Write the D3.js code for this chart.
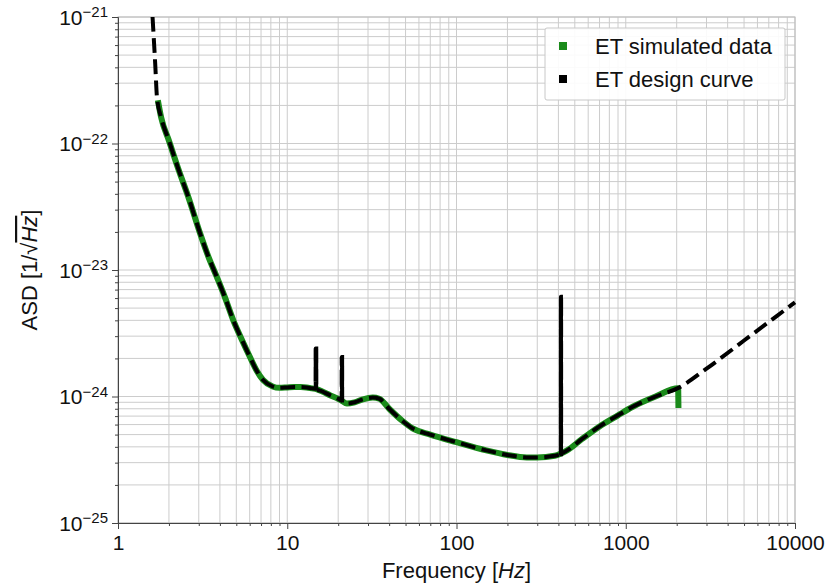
<!DOCTYPE html>
<html>
<head>
<meta charset="utf-8">
<script src="https://cdn.jsdelivr.net/npm/d3@7"></script>
<style>
  body { margin: 0; background: #fff; }
  text { font-family: "Liberation Sans", Arial, sans-serif; fill: #111; }
</style>
</head>
<body>
<div id="chart"></div>
<script>
// ET design curve (frequency Hz, ASD); the narrow lines are sampled densely, several samples per peak
var designFreq = [1.6, 1.63, 1.66, 1.70, 1.8, 2.0, 2.3, 2.6, 3.05, 3.4, 3.83, 4.3, 4.8, 5.4, 6.0, 6.6, 7.2, 8.2, 9.0,
                  10, 11, 12, 13, 14, 14.70, 14.72, 14.74, 14.76, 14.78, 14.80, 14.82, 14.84, 14.86, 16, 18, 20,
                  20.96, 20.98, 21.00, 21.02, 21.04, 21.06, 21.08, 21.10, 21.12, 22.5, 25, 28, 32, 35, 40, 48, 55,
                  70, 100, 150, 200, 260, 300, 380, 413.6, 413.8, 414.0, 414.2, 414.4, 414.6, 414.8, 415.0, 415.2,
                  450, 550, 700, 900, 1100, 1500, 2048, 3000, 5000, 10000];
var designAsd = [1.0e-21, 6.5e-22, 4.2e-22, 2.3e-22, 1.6e-22, 1.05e-22, 6.0e-23, 3.8e-23, 1.96e-23, 1.3e-23, 8.85e-24, 6.0e-24, 4.0e-24, 2.8e-24, 2.07e-24, 1.6e-24, 1.35e-24, 1.2e-24, 1.17e-24,
                 1.18e-24, 1.19e-24, 1.19e-24, 1.18e-24, 1.16e-24, 1.15e-24, 2.4e-24, 1.15e-24, 2.4e-24, 1.15e-24, 2.4e-24, 1.15e-24, 2.4e-24, 1.14e-24, 1.1e-24, 1.02e-24, 9.6e-25,
                 9.3e-25, 2.05e-24, 9.3e-25, 2.05e-24, 9.3e-25, 2.05e-24, 9.3e-25, 2.05e-24, 9.2e-25, 8.8e-25, 9.0e-25, 9.5e-25, 9.8e-25, 9.6e-25, 8.0e-25, 6.4e-25, 5.6e-25,
                 5.0e-25, 4.35e-25, 3.75e-25, 3.45e-25, 3.3e-25, 3.3e-25, 3.4e-25, 3.5e-25, 6.15e-24, 3.5e-25, 6.15e-24, 3.5e-25, 6.15e-24, 3.5e-25, 6.15e-24, 3.55e-25,
                 3.75e-25, 4.6e-25, 5.8e-25, 7.1e-25, 8.3e-25, 1.0e-24, 1.17e-24, 1.66e-24, 2.77e-24, 5.55e-24];

// ET simulated data
var simFreq = [1.72, 1.8, 2.0, 2.3, 2.6, 3.05, 3.4, 3.83, 4.3, 4.8, 5.4, 6.0, 6.6, 7.2, 8.2, 9.0,
               10, 11, 12, 13, 14, 15, 16, 18, 20, 21, 22.5, 25, 28, 32, 35, 40, 48, 55,
               70, 100, 150, 200, 260, 300, 380, 450, 550, 700, 900, 1100, 1500, 2040, 2048];
var simAsd = [2.2e-22, 1.6e-22, 1.05e-22, 6.0e-23, 3.8e-23, 1.96e-23, 1.3e-23, 8.85e-24, 6.0e-24, 4.0e-24, 2.8e-24, 2.07e-24, 1.6e-24, 1.35e-24, 1.2e-24, 1.17e-24,
              1.18e-24, 1.19e-24, 1.19e-24, 1.18e-24, 1.16e-24, 1.14e-24, 1.1e-24, 1.02e-24, 9.6e-25, 9.25e-25, 8.8e-25, 9.0e-25, 9.5e-25, 9.8e-25, 9.6e-25, 8.0e-25, 6.4e-25, 5.6e-25,
              5.0e-25, 4.35e-25, 3.75e-25, 3.45e-25, 3.3e-25, 3.3e-25, 3.4e-25, 3.75e-25, 4.6e-25, 5.8e-25, 7.1e-25, 8.3e-25, 1.0e-24, 1.16e-24, 8.1e-25];

var xTicks = [1, 10, 100, 1000, 10000];
var yExps = [-25, -24, -23, -22, -21];
var legendLabels = ["ET simulated data", "ET design curve"];

var W = 828, H = 585;
var margin = { top: 17, right: 33, bottom: 62, left: 118 };
var w = W - margin.left - margin.right;
var h = H - margin.top - margin.bottom;
var font = "Liberation Sans, Arial, sans-serif";

var svg = d3.select("#chart").append("svg")
            .attr("width", W)
            .attr("height", H);
var g = svg.append("g")
           .attr("transform", "translate(" + margin.left + "," + margin.top + ")");

var x = d3.scaleLog().domain([1, 10000]).range([0, w]);
var y = d3.scaleLog().domain([1e-25, 1e-21]).range([h, 0]);

// minor tick values
var xMinor = [], yMinor = [];
for (var d = 1; d < 10000; d *= 10) for (var k = 2; k <= 9; k++) xMinor.push(d * k);
for (var e = -25; e < -21; e++) for (var k = 2; k <= 9; k++) yMinor.push(k * Math.pow(10, e));
var yMajor = yExps.map(function(p) { return Math.pow(10, p); });

// grid
var grid = g.append("g").attr("stroke", "#cccccc").attr("stroke-width", 1);
xMinor.concat(xTicks).forEach(function(v) {
  grid.append("line").attr("x1", x(v)).attr("x2", x(v)).attr("y1", 0).attr("y2", h);
});
yMinor.concat(yMajor).forEach(function(v) {
  grid.append("line").attr("x1", 0).attr("x2", w).attr("y1", y(v)).attr("y2", y(v));
});
g.append("rect").attr("width", w).attr("height", h)
 .attr("fill", "none").attr("stroke", "#bbbbbb");

// axes
var xAxis = g.append("g").attr("transform", "translate(0," + h + ")")
  .call(d3.axisBottom(x).tickValues(xTicks).tickFormat(d3.format("d")).tickSize(6).tickPadding(6));
g.append("g").attr("transform", "translate(0," + h + ")")
  .call(d3.axisBottom(x).tickValues(xMinor).tickFormat("").tickSize(3))
  .select(".domain").remove();

var yAxis = g.append("g")
  .call(d3.axisLeft(y).tickValues(yMajor).tickFormat("").tickSize(6));
g.append("g")
  .call(d3.axisLeft(y).tickValues(yMinor).tickFormat("").tickSize(3))
  .select(".domain").remove();

g.selectAll(".domain").attr("stroke", "#444");
g.selectAll(".tick line").attr("stroke", "#444");
xAxis.selectAll("text").attr("font-size", 21).attr("fill", "#111")
     .style("font-family", font);

yAxis.selectAll(".tick").each(function(v) {
  var t = d3.select(this).append("text")
    .attr("x", -10).attr("dy", "0.35em")
    .attr("text-anchor", "end")
    .attr("font-size", 21)
    .attr("fill", "#111")
    .style("font-family", font);
  t.append("tspan").text("10");
  t.append("tspan").attr("dy", "-0.5em").attr("font-size", 15)
   .text("\u2212" + Math.round(-Math.log10(v)));
});

// curves
var line = d3.line()
  .x(function(d) { return x(d[0]); })
  .y(function(d) { return y(d[1]); })
  .curve(d3.curveMonotoneX);

var simData = d3.zip(simFreq, simAsd);
var designData = d3.zip(designFreq, designAsd);

var plot = g.append("g");
plot.append("path").datum(simData)
  .attr("d", line)
  .attr("fill", "none")
  .attr("stroke", "#1a8a1a")
  .attr("stroke-width", 6)
  .attr("stroke-linejoin", "round");
plot.append("path").datum(designData)
  .attr("d", line)
  .attr("fill", "none")
  .attr("stroke", "#000")
  .attr("stroke-width", 4)
  .attr("stroke-dasharray", "14.8,6.4");

// legend
var legend = g.append("g").attr("transform", "translate(" + (545 - margin.left) + "," + (28 - margin.top) + ")");
legend.append("rect").attr("width", 240).attr("height", 72).attr("rx", 2)
  .attr("fill", "#fff").attr("fill-opacity", 0.9).attr("stroke", "#c8c8c8");
var legendColors = ["#1a8a1a", "#000"];
legendLabels.forEach(function(lbl, i) {
  legend.append("rect").attr("x", 14).attr("y", 14 + i * 33).attr("width", 8).attr("height", 8)
    .attr("fill", legendColors[i]);
  legend.append("text").attr("x", 50).attr("y", 26 + i * 33)
    .attr("font-size", 22).text(lbl);
});

// axis labels
svg.append("text")
  .attr("x", margin.left + w / 2).attr("y", 578)
  .attr("text-anchor", "middle").attr("font-size", 22)
  .html('Frequency [<tspan font-style="italic">Hz</tspan>]');

var yl = svg.append("text")
  .attr("transform", "translate(37," + (margin.top + h / 2) + ") rotate(-90)")
  .attr("text-anchor", "middle").attr("font-size", 22);
yl.append("tspan").text("ASD [1/\u221A");
yl.append("tspan").attr("font-style", "italic").attr("text-decoration", "overline").text("Hz");
yl.append("tspan").text("]");
</script>
</body>
</html>
